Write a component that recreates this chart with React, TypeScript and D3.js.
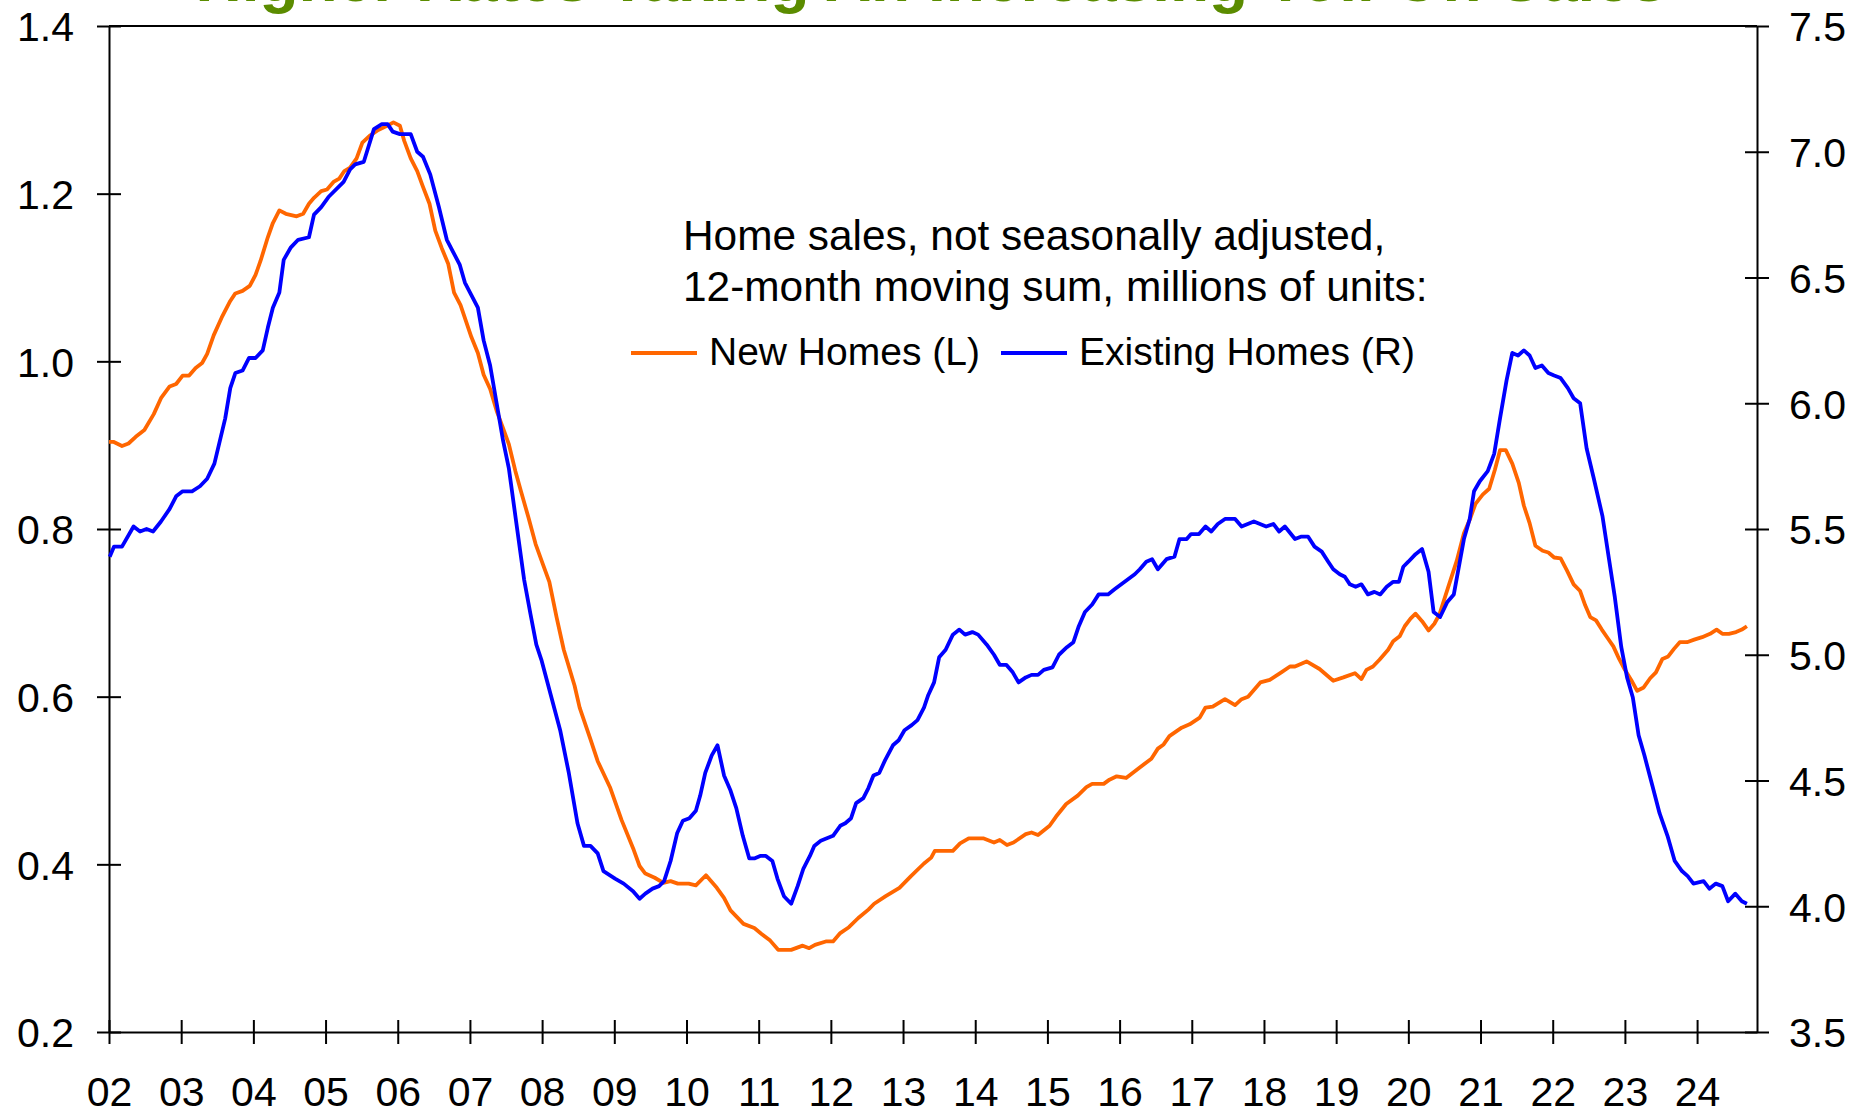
import React, { useEffect, useRef } from 'react';
import * as d3 from 'd3';

// 12-month moving sums (decimal years)
const newHomeYears = [
  2002.0, 2002.06, 2002.18, 2002.27, 2002.37, 2002.49, 2002.62, 2002.72, 2002.84, 2002.93,
  2003.02, 2003.11, 2003.2, 2003.29, 2003.36, 2003.45, 2003.56, 2003.68, 2003.75, 2003.85, 2003.95,
  2004.03, 2004.1, 2004.2, 2004.27, 2004.36, 2004.45, 2004.6, 2004.69, 2004.77, 2004.84, 2004.94,
  2005.02, 2005.11, 2005.19, 2005.26, 2005.34, 2005.43, 2005.51, 2005.61, 2005.73, 2005.83, 2005.94,
  2006.03, 2006.09, 2006.18, 2006.27, 2006.35, 2006.44, 2006.52, 2006.61, 2006.7, 2006.78, 2006.87,
  2007.02, 2007.11, 2007.19, 2007.28, 2007.37, 2007.46, 2007.54, 2007.63, 2007.71, 2007.81, 2007.91,
  2008.01, 2008.1, 2008.2, 2008.3, 2008.45, 2008.52, 2008.67, 2008.77, 2008.94,
  2009.1, 2009.27, 2009.35, 2009.43, 2009.56, 2009.68, 2009.78, 2009.88,
  2010.03, 2010.13, 2010.27, 2010.42, 2010.52, 2010.61, 2010.69, 2010.79, 2010.94,
  2011.04, 2011.16, 2011.27, 2011.45, 2011.61, 2011.7, 2011.78, 2011.93,
  2012.03, 2012.13, 2012.25, 2012.38, 2012.52, 2012.6, 2012.76, 2012.95,
  2013.11, 2013.29, 2013.39, 2013.44, 2013.69, 2013.79, 2013.91,
  2014.11, 2014.26, 2014.34, 2014.44, 2014.53, 2014.7, 2014.78, 2014.87,
  2015.03, 2015.12, 2015.26, 2015.42, 2015.54, 2015.62, 2015.78, 2015.86, 2015.96,
  2016.09, 2016.27, 2016.44, 2016.53, 2016.61, 2016.69, 2016.86, 2016.97,
  2017.11, 2017.19, 2017.29, 2017.46, 2017.6, 2017.69, 2017.78, 2017.95,
  2018.08, 2018.24, 2018.36, 2018.43, 2018.59, 2018.77, 2018.96,
  2019.1, 2019.26, 2019.35, 2019.42, 2019.51, 2019.6, 2019.72, 2019.79, 2019.88, 2019.95,
  2020.03, 2020.1, 2020.19, 2020.28, 2020.36, 2020.43, 2020.55, 2020.67, 2020.77, 2020.85, 2020.93,
  2021.03, 2021.12, 2021.2, 2021.27, 2021.35, 2021.44, 2021.53, 2021.6, 2021.68, 2021.76, 2021.86, 2021.94,
  2022.02, 2022.11, 2022.2, 2022.29, 2022.38, 2022.45, 2022.52, 2022.6, 2022.68, 2022.76, 2022.84, 2022.92,
  2023.0, 2023.1, 2023.17, 2023.26, 2023.35, 2023.43, 2023.52, 2023.6, 2023.68, 2023.76, 2023.86, 2023.96,
  2024.07, 2024.18, 2024.27, 2024.35, 2024.44, 2024.54, 2024.62, 2024.69,
];
const newHomeSales = [
  0.904, 0.904, 0.899, 0.902, 0.91, 0.918, 0.937, 0.956, 0.97, 0.973,
  0.983, 0.983, 0.992, 0.998, 1.009, 1.031, 1.052, 1.072, 1.081, 1.084, 1.09,
  1.103, 1.12, 1.148, 1.165, 1.18, 1.176, 1.173, 1.176, 1.188, 1.195, 1.203,
  1.205, 1.214, 1.218, 1.227, 1.231, 1.242, 1.261, 1.269, 1.276, 1.28, 1.285,
  1.281, 1.263, 1.242, 1.227, 1.208, 1.188, 1.156, 1.135, 1.116, 1.082, 1.067,
  1.029, 1.01, 0.984, 0.967, 0.941, 0.92, 0.901, 0.869, 0.844, 0.814, 0.782,
  0.758, 0.737, 0.695, 0.656, 0.613, 0.587, 0.549, 0.523, 0.492,
  0.453, 0.417, 0.398, 0.389, 0.384, 0.378, 0.38, 0.377,
  0.377, 0.375, 0.387, 0.372, 0.36, 0.345, 0.338, 0.329, 0.324,
  0.317, 0.309, 0.298, 0.298, 0.303, 0.3, 0.304, 0.308,
  0.308, 0.318, 0.325, 0.336, 0.346, 0.353, 0.362, 0.372,
  0.386, 0.401, 0.408, 0.416, 0.416, 0.425, 0.431,
  0.431, 0.426, 0.429, 0.423, 0.426, 0.436, 0.438, 0.435,
  0.446, 0.457, 0.472, 0.482, 0.492, 0.496, 0.496, 0.501, 0.505,
  0.503, 0.515, 0.526, 0.538, 0.543, 0.553, 0.563, 0.567,
  0.575, 0.587, 0.588, 0.597, 0.59, 0.597, 0.6, 0.617,
  0.62, 0.629, 0.636, 0.636, 0.642, 0.633, 0.619,
  0.623, 0.628, 0.621, 0.632, 0.636, 0.644, 0.656, 0.666, 0.672, 0.684,
  0.693, 0.699, 0.69, 0.679, 0.687, 0.698, 0.73, 0.762, 0.795, 0.811, 0.83,
  0.841, 0.848, 0.871, 0.894, 0.894, 0.878, 0.855, 0.828, 0.807, 0.78, 0.774, 0.772,
  0.766, 0.765, 0.75, 0.734, 0.726, 0.709, 0.695, 0.691, 0.68, 0.67, 0.66, 0.645,
  0.632, 0.618, 0.607, 0.611, 0.622, 0.629, 0.645, 0.648, 0.657, 0.665, 0.665, 0.668,
  0.671, 0.675, 0.68, 0.675, 0.675, 0.677, 0.68, 0.684,
];

const existingYears = [
  2002.01, 2002.07, 2002.18, 2002.34, 2002.43, 2002.52, 2002.61, 2002.72, 2002.84, 2002.93,
  2003.02, 2003.15, 2003.26, 2003.36, 2003.46, 2003.61, 2003.68, 2003.75, 2003.85, 2003.94,
  2004.03, 2004.13, 2004.2, 2004.27, 2004.36, 2004.42, 2004.52, 2004.62, 2004.77, 2004.84, 2004.94,
  2005.04, 2005.25, 2005.34, 2005.41, 2005.53, 2005.67, 2005.78, 2005.86, 2005.93,
  2006.03, 2006.18, 2006.27, 2006.35, 2006.45, 2006.57, 2006.68, 2006.77, 2006.86, 2006.93,
  2007.02, 2007.11, 2007.19, 2007.28, 2007.37, 2007.46, 2007.54, 2007.64, 2007.75, 2007.84, 2007.92, 2007.99,
  2008.25, 2008.37, 2008.49, 2008.58, 2008.67, 2008.77, 2008.85,
  2009.01, 2009.13, 2009.26, 2009.35, 2009.43, 2009.53, 2009.62, 2009.69, 2009.78, 2009.87, 2009.95,
  2010.04, 2010.13, 2010.19, 2010.26, 2010.35, 2010.43, 2010.52, 2010.61, 2010.69, 2010.78, 2010.87, 2010.94,
  2011.02, 2011.1, 2011.19, 2011.26, 2011.35, 2011.45, 2011.54, 2011.62, 2011.71, 2011.77, 2011.86,
  2012.03, 2012.13, 2012.2, 2012.28, 2012.35, 2012.45, 2012.52, 2012.59, 2012.67, 2012.75, 2012.86, 2012.94,
  2013.02, 2013.12, 2013.2, 2013.29, 2013.35, 2013.43, 2013.5, 2013.59, 2013.69, 2013.78, 2013.86, 2013.96,
  2014.04, 2014.16, 2014.26, 2014.34, 2014.43, 2014.52, 2014.6, 2014.7, 2014.78, 2014.87, 2014.95,
  2015.07, 2015.16, 2015.27, 2015.36, 2015.43, 2015.52, 2015.62, 2015.71, 2015.84, 2015.93,
  2016.07, 2016.21, 2016.28, 2016.37, 2016.45, 2016.53, 2016.65, 2016.76, 2016.83, 2016.93, 2016.99,
  2017.1, 2017.19, 2017.27, 2017.36, 2017.46, 2017.6, 2017.69, 2017.86,
  2018.03, 2018.13, 2018.21, 2018.29, 2018.43, 2018.52, 2018.61, 2018.7, 2018.8, 2018.89, 2018.96,
  2019.05, 2019.12, 2019.19, 2019.27, 2019.35, 2019.44, 2019.53, 2019.61, 2019.7, 2019.79, 2019.87, 2019.93,
  2020.0, 2020.1, 2020.19, 2020.28, 2020.35, 2020.44, 2020.54, 2020.63, 2020.77, 2020.85, 2020.91, 2020.99,
  2021.1, 2021.19, 2021.27, 2021.36, 2021.44, 2021.52, 2021.6, 2021.68, 2021.76, 2021.85, 2021.94,
  2022.02, 2022.11, 2022.21, 2022.29, 2022.38, 2022.47, 2022.57, 2022.69, 2022.78, 2022.86, 2022.95,
  2023.03, 2023.11, 2023.19, 2023.27, 2023.38, 2023.48, 2023.59, 2023.69, 2023.79, 2023.87, 2023.95,
  2024.09, 2024.17, 2024.26, 2024.35, 2024.43, 2024.53, 2024.62, 2024.69,
];
const existingSales = [
  5.39, 5.43, 5.43, 5.51, 5.49, 5.5, 5.49, 5.53, 5.58, 5.63,
  5.65, 5.65, 5.67, 5.7, 5.76, 5.94, 6.06, 6.12, 6.13, 6.18,
  6.18, 6.21, 6.3, 6.38, 6.44, 6.57, 6.62, 6.65, 6.66, 6.75, 6.78,
  6.82, 6.88, 6.93, 6.95, 6.96, 7.09, 7.11, 7.11, 7.08,
  7.07, 7.07, 7.0, 6.98, 6.91, 6.78, 6.65, 6.6, 6.55, 6.48,
  6.43, 6.38, 6.25, 6.15, 6.0, 5.85, 5.74, 5.53, 5.3, 5.16, 5.04, 4.98,
  4.7, 4.53, 4.33, 4.24, 4.24, 4.21, 4.14,
  4.11, 4.09, 4.06, 4.03, 4.05, 4.07, 4.08, 4.1, 4.18, 4.29, 4.34,
  4.35, 4.38, 4.44, 4.53, 4.6, 4.64, 4.52, 4.46, 4.39, 4.28, 4.19, 4.19,
  4.2, 4.2, 4.18, 4.11, 4.04, 4.01, 4.08, 4.15, 4.2, 4.24, 4.26,
  4.28, 4.32, 4.33, 4.35, 4.41, 4.43, 4.47, 4.52, 4.53, 4.58, 4.64, 4.66,
  4.7, 4.72, 4.74, 4.79, 4.84, 4.89, 4.99, 5.02, 5.08, 5.1, 5.08, 5.09,
  5.08, 5.04, 5.0, 4.96, 4.96, 4.93, 4.89, 4.91, 4.92, 4.92, 4.94,
  4.95, 5.0, 5.03, 5.05, 5.11, 5.17, 5.2, 5.24, 5.24, 5.26,
  5.29, 5.32, 5.34, 5.37, 5.38, 5.34, 5.38, 5.39, 5.46, 5.46, 5.48,
  5.48, 5.51, 5.49, 5.52, 5.54, 5.54, 5.51, 5.53,
  5.51, 5.52, 5.49, 5.51, 5.46, 5.47, 5.47, 5.43, 5.41, 5.37, 5.34,
  5.32, 5.31, 5.28, 5.27, 5.28, 5.24, 5.25, 5.24, 5.27, 5.29, 5.29, 5.35,
  5.37, 5.4, 5.42, 5.33, 5.17, 5.15, 5.21, 5.24, 5.46, 5.54, 5.65, 5.69,
  5.73, 5.8, 5.94, 6.09, 6.2, 6.19, 6.21, 6.19, 6.14, 6.15, 6.12,
  6.11, 6.1, 6.06, 6.02, 6.0, 5.82, 5.7, 5.55, 5.38, 5.23, 5.03,
  4.91, 4.83, 4.68, 4.6, 4.48, 4.37, 4.28, 4.18, 4.14, 4.12, 4.09,
  4.1, 4.07, 4.09, 4.08, 4.02, 4.05, 4.02, 4.01,
];

const yearTicks = [
  2002, 2003, 2004, 2005, 2006, 2007, 2008, 2009, 2010, 2011, 2012, 2013,
  2014, 2015, 2016, 2017, 2018, 2019, 2020, 2021, 2022, 2023, 2024,
];
const leftTicks = [0.2, 0.4, 0.6, 0.8, 1.0, 1.2, 1.4];
const rightTicks = [3.5, 4.0, 4.5, 5.0, 5.5, 6.0, 6.5, 7.0, 7.5];

const title = 'Higher Rates Taking An Increasing Toll On Sales';
const noteLines = ['Home sales, not seasonally adjusted,', '12-month moving sum, millions of units:'];
const seriesNames = ['New Homes (L)', 'Existing Homes (R)'];

const W = 1862;
const H = 1115;
const FONT = '"Liberation Sans", Arial, Helvetica, sans-serif';
const ORANGE = '#FF6600';
const BLUE = '#0000FF';

const App: React.FC = () => {
  const svgRef = useRef<SVGSVGElement>(null);

  useEffect(() => {
    if (!svgRef.current) return;
    const svg = d3.select(svgRef.current);
    svg.selectAll('*').remove();

    const left = 109, right = 1757, top = 26, bottom = 1032;

    const x = d3.scaleLinear().domain([2002, 2024.83]).range([left, right]);
    const yL = d3.scaleLinear().domain([0.2, 1.4]).range([bottom, top]);
    const yR = d3.scaleLinear().domain([3.5, 7.5]).range([bottom, top]);

    // title, cut off by the top edge just like the source image
    svg.append('text')
      .attr('x', 931)
      .attr('y', 1)
      .attr('text-anchor', 'middle')
      .attr('font-family', FONT)
      .attr('font-weight', 'bold')
      .attr('font-size', 64)
      .attr('fill', '#5B8C00')
      .text(title);

    // top frame line
    svg.append('line')
      .attr('x1', left).attr('x2', right)
      .attr('y1', top).attr('y2', top)
      .attr('stroke', '#000').attr('stroke-width', 2);

    // left axis
    svg.append('g')
      .attr('transform', `translate(${left},0)`)
      .call(d3.axisLeft(yL).tickValues(leftTicks).tickSize(12).tickSizeOuter(0).tickFormat(d3.format('.1f')))
      .call(g => g.select('.domain').attr('stroke-width', 2))
      .call(g => g.selectAll('.tick line').attr('x1', 12).attr('stroke-width', 2))
      .call(g => g.selectAll('.tick text').attr('x', -35).attr('dy', '0.36em'))
      .attr('font-size', 41)
      .attr('font-family', FONT)
      .attr('color', '#000');

    // right axis
    svg.append('g')
      .attr('transform', `translate(${right},0)`)
      .call(d3.axisRight(yR).tickValues(rightTicks).tickSize(12).tickSizeOuter(0).tickFormat(d3.format('.1f')))
      .call(g => g.select('.domain').attr('stroke-width', 2))
      .call(g => g.selectAll('.tick line').attr('x1', -12).attr('stroke-width', 2))
      .call(g => g.selectAll('.tick text').attr('x', 32).attr('dy', '0.36em'))
      .attr('font-size', 41)
      .attr('font-family', FONT)
      .attr('color', '#000');

    // bottom axis
    svg.append('g')
      .attr('transform', `translate(0,${bottom})`)
      .call(d3.axisBottom(x).tickValues(yearTicks).tickSize(12).tickSizeOuter(0)
        .tickFormat(d => String(d).slice(2)))
      .call(g => g.select('.domain').attr('stroke-width', 2))
      .call(g => g.selectAll('.tick line').attr('y1', -12).attr('stroke-width', 2))
      .call(g => g.selectAll('.tick text').attr('y', 60).attr('dy', '0.34em'))
      .attr('font-size', 41)
      .attr('font-family', FONT)
      .attr('color', '#000');

    // series
    const newLine = d3.line<number>()
      .x((_, i) => x(newHomeYears[i]))
      .y(d => yL(d));
    const existingLine = d3.line<number>()
      .x((_, i) => x(existingYears[i]))
      .y(d => yR(d));

    svg.append('path')
      .datum(newHomeSales)
      .attr('d', newLine)
      .attr('fill', 'none')
      .attr('stroke', ORANGE)
      .attr('stroke-width', 3.8)
      .attr('stroke-linejoin', 'round');

    svg.append('path')
      .datum(existingSales)
      .attr('d', existingLine)
      .attr('fill', 'none')
      .attr('stroke', BLUE)
      .attr('stroke-width', 3.8)
      .attr('stroke-linejoin', 'round');

    // note + legend
    const note = svg.append('g').attr('font-family', FONT).attr('fill', '#000');
    noteLines.forEach((t, i) => {
      note.append('text')
        .attr('x', 683)
        .attr('y', 250 + i * 51)
        .attr('font-size', 42.4)
        .text(t);
    });

    const legendItems = [
      { name: seriesNames[0], color: ORANGE, x0: 631 },
      { name: seriesNames[1], color: BLUE, x0: 1001 },
    ];
    legendItems.forEach(item => {
      note.append('line')
        .attr('x1', item.x0).attr('x2', item.x0 + 66)
        .attr('y1', 353).attr('y2', 353)
        .attr('stroke', item.color)
        .attr('stroke-width', 3.8);
      note.append('text')
        .attr('x', item.x0 + 78)
        .attr('y', 365)
        .attr('font-size', 39)
        .text(item.name);
    });
  }, []);

  return (
    <svg
      ref={svgRef}
      width={W}
      height={H}
      style={{ position: 'absolute', left: 0, top: 0, background: '#fff' }}
    />
  );
};

export default App;
